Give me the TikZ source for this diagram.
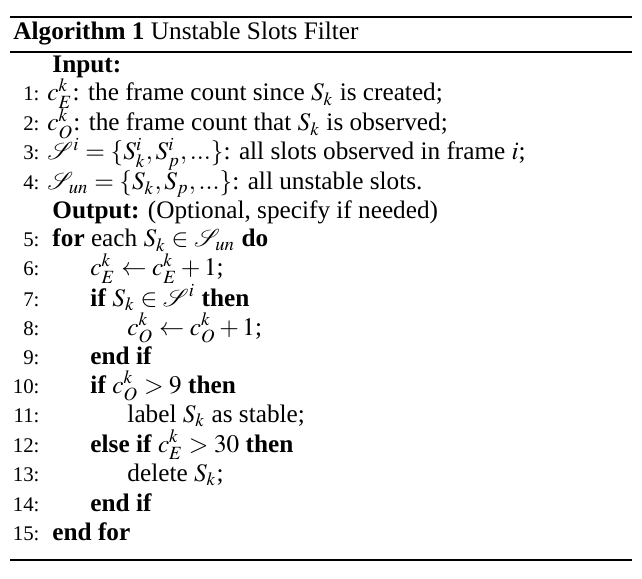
\documentclass[tikz,border=0pt]{standalone}
\usepackage{mathptmx}
\usepackage{mathrsfs}
\usepackage{fontspec}
\setmainfont{Liberation Serif}
\begin{document}
\begin{tikzpicture}[x=0.408pt,y=-0.408pt,
  num/.style={anchor=base east,inner sep=0pt,font=\fontsize{8.5}{10}\selectfont},
  txt/.style={anchor=base west,inner sep=0pt,font=\fontsize{10.3}{12}\selectfont}]
\useasboundingbox (0,0) rectangle (642,579);
\draw[line width=0.8pt] (10,17) -- (632,17);
\draw[line width=0.5pt] (10,52) -- (632,52);
\draw[line width=0.8pt] (10,560) -- (632,560);
\node[txt] (t) at (13,40) {\textbf{Algorithm 1} Unstable Slots Filter};
\node[txt] (in) at (52,73) {\textbf{Input:}};
\node[num] (n1) at (40,101) {1:}; \node[txt] (l1) at (47,101) {$c_E^k$: the frame count since $S_k$ is created;};
\node[num] (n2) at (40,131) {2:}; \node[txt] (l2) at (47,131) {$c_O^k$: the frame count that $S_k$ is observed;};
\node[num] (n3) at (40,160) {3:}; \node[txt] (l3) at (47,160) {$\mathscr{S}^i=\{S^i_k,S^i_p,...\}$: all slots observed in frame $i$;};
\node[num] (n4) at (40,190) {4:}; \node[txt] (l4) at (47,190) {$\mathscr{S}_{un}=\{S_k,S_p,...\}$: all unstable slots.};
\node[txt] (out) at (52,219) {\textbf{Output:} (Optional, specify if needed)};
\node[num] (n5) at (40,247) {5:}; \node[txt] (l5) at (52,247) {\textbf{for} each $S_k\in\mathscr{S}_{un}$ \textbf{do}};
\node[num] (n6) at (40,276) {6:}; \node[txt] (l6) at (90,276) {$c_E^k\leftarrow c_E^k+1$;};
\node[num] (n7) at (40,306) {7:}; \node[txt] (l7) at (90,306) {\textbf{if} $S_k\in\mathscr{S}^i$ \textbf{then}};
\node[num] (n8) at (40,335) {8:}; \node[txt] (l8) at (127,335) {$c_O^k\leftarrow c_O^k+1$;};
\node[num] (n9) at (40,364) {9:}; \node[txt] (l9) at (90,364) {\textbf{end if}};
\node[num] (n10) at (40,393) {10:}; \node[txt] (l10) at (90,393) {\textbf{if} $c_O^k>9$ \textbf{then}};
\node[num] (n11) at (40,422) {11:}; \node[txt] (l11) at (127,422) {label $S_k$ as stable;};
\node[num] (n12) at (40,452) {12:}; \node[txt] (l12) at (90,452) {\textbf{else if} $c_E^k>30$ \textbf{then}};
\node[num] (n13) at (40,481) {13:}; \node[txt] (l13) at (127,481) {delete $S_k$;};
\node[num] (n14) at (40,511) {14:}; \node[txt] (l14) at (90,511) {\textbf{end if}};
\node[num] (n15) at (40,540) {15:}; \node[txt] (l15) at (52,540) {\textbf{end for}};
\end{tikzpicture}
\end{document}
